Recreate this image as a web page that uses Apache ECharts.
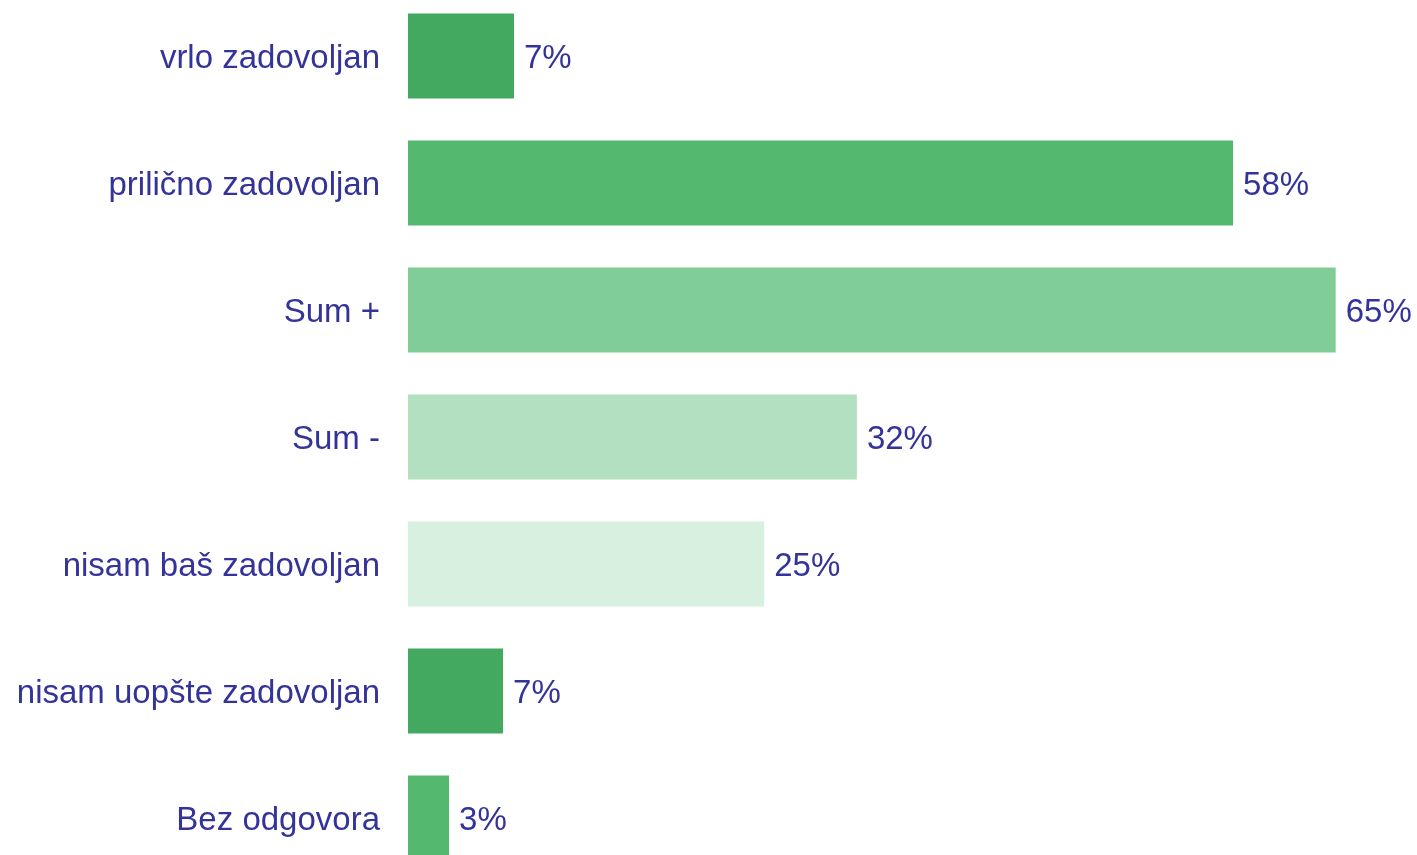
<!DOCTYPE html>
<html>
<head>
<meta charset="utf-8">
<script src="https://cdn.jsdelivr.net/npm/echarts@6/dist/echarts.min.js"></script>
<style>
  html, body { margin: 0; padding: 0; background: #fff; }
  #main { width: 1417px; height: 855px; }
</style>
</head>
<body>
<div id="main"></div>
<script>
var categories = ['vrlo zadovoljan', 'prilično zadovoljan', 'Sum +', 'Sum -', 'nisam baš zadovoljan', 'nisam uopšte zadovoljan', 'Bez odgovora'];
var values = [7.44, 57.9, 65.1, 31.5, 25.0, 6.67, 2.88];
var barColors = ['#43a960', '#54b96f', '#80cd98', '#b3e0c0', '#d8f0e0', '#43a960', '#54b96f'];

var chart = echarts.init(document.getElementById('main'));
var option = {
    animation: false,
    textStyle: { fontFamily: 'Liberation Sans, Arial, sans-serif' },
    grid: {
        left: 408, right: 11.5, top: -7.5, bottom: -26.5,
        containLabel: false,
        outerBoundsMode: 'none'
    },
    xAxis: {
        type: 'value',
        min: 0,
        max: 70,
        show: false
    },
    yAxis: {
        type: 'category',
        data: categories,
        inverse: true,
        axisLine: { show: false },
        axisTick: { show: false },
        axisLabel: {
            margin: 28,
            color: '#333399',
            fontSize: 33,
            fontFamily: 'Liberation Sans, Arial, sans-serif',
            formatter: function (v) { return '{t|' + v + '}'; },
            rich: {
                t: {
                    color: '#333399',
                    fontSize: 33,
                    fontFamily: 'Liberation Sans, Arial, sans-serif',
                    padding: [6, 0, 0, 0]
                }
            }
        }
    },
    series: [{
        type: 'bar',
        barWidth: 85,
        data: values.map(function (v, i) {
            return { value: v, itemStyle: { color: barColors[i] } };
        }),
        label: {
            show: true,
            position: 'right',
            distance: 10,
            offset: [0, 3],
            color: '#333399',
            fontSize: 33,
            fontFamily: 'Liberation Sans, Arial, sans-serif',
            formatter: function (p) { return Math.round(p.value) + '%'; }
        }
    }]
};
chart.setOption(option);
</script>
</body>
</html>
